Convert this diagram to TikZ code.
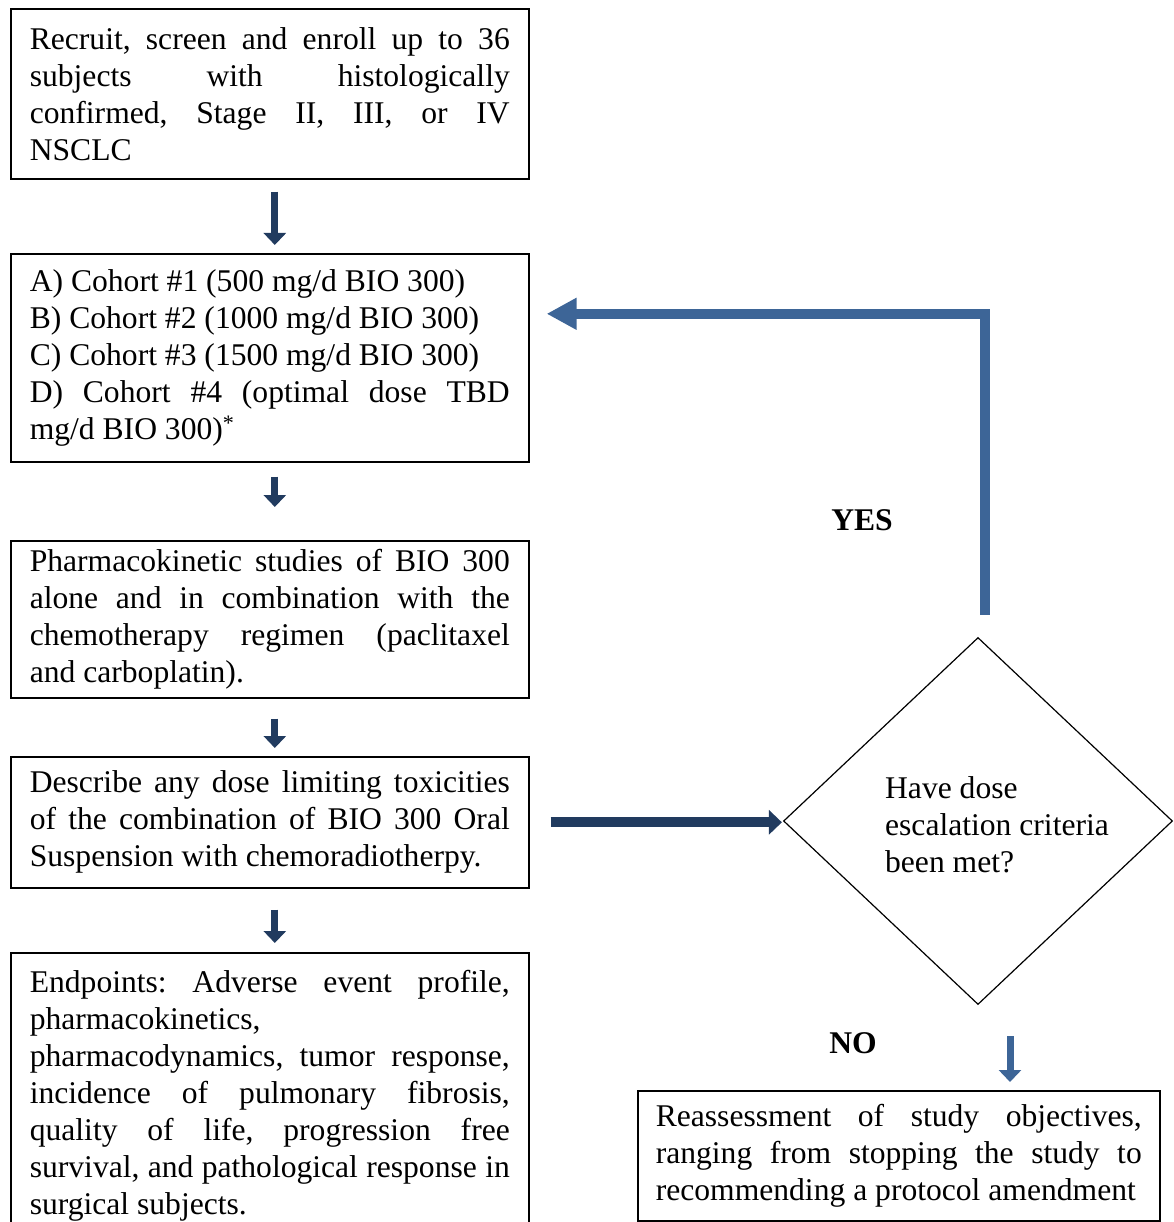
\documentclass[tikz,border=0pt]{standalone}
\usepackage{fontspec}
\setmainfont{Liberation Serif}
\usepackage{xcolor}
\usetikzlibrary{arrows.meta}
\usetikzlibrary{shapes.geometric}
\definecolor{navy}{HTML}{213B5F}
\definecolor{steel}{HTML}{3D6597}
\frenchspacing

\begin{document}
\begin{tikzpicture}[x=1pt,y=-1pt,
    txt/.style={font=\fontsize{31.6}{37}\selectfont},
    box/.style={txt,draw,line width=1.6pt,anchor=north west,
      text width=480pt,inner xsep=19pt,align=justify},
    downarr/.style={navy,line width=7pt,-{Triangle[width=22pt,length=12pt]}},
    sidearr/.style={navy,line width=10pt,-{Triangle[width=24pt,length=13pt]}},
    yesarr/.style={steel,line width=10pt,-{Triangle[width=30pt,length=30pt]}},
    noarr/.style={steel,line width=7pt,-{Triangle[width=22pt,length=12pt]}},
    decision/.style={draw,diamond,line width=1.2pt,minimum width=389pt,
      minimum height=367pt,inner sep=0pt}]
  \useasboundingbox (0,0) rectangle (1173,1222);

  \node (rec) [box,minimum height=170pt] at (10,8)
    {Recruit, screen and enroll up to 36\linebreak subjects with histologically\linebreak
     confirmed, Stage II, III, or IV\linebreak NSCLC};
  \node (coh) [box,minimum height=208pt] at (10,253)
    {A) Cohort \#1 (500 mg/d BIO 300)\\ B) Cohort \#2 (1000 mg/d BIO 300)\\
     C) Cohort \#3 (1500 mg/d BIO 300)\\ D) Cohort \#4 (optimal dose TBD\linebreak
     mg/d BIO 300)\textsuperscript{*}};
  \node (pk) [box,minimum height=157pt] at (10,540)
    {Pharmacokinetic studies of BIO 300\linebreak alone and in combination with the\linebreak
     chemotherapy regimen (paclitaxel\linebreak and carboplatin).};
  \node (dlt) [box,minimum height=131pt] at (10,756)
    {Describe any dose limiting toxicities\linebreak of the combination of BIO 300 Oral\linebreak
     Suspension with chemoradiotherpy.};
  \node (endp) [box,minimum height=285pt] at (10,952)
    {Endpoints: Adverse event profile,\linebreak pharmacokinetics,\\
     pharmacodynamics, tumor response,\linebreak incidence of pulmonary fibrosis,\linebreak
     quality of life, progression free\linebreak survival, and pathological response in\linebreak
     surgical subjects.};

  \node (dia) [decision] at (978,821) {};
  \node (qtxt) [txt,align=left] at (997,825) {Have dose\\ escalation criteria\\ been met?};
  \node (yes) [txt] at (862,520) {\textbf{YES}};
  \node (no) [txt] at (853,1043) {\textbf{NO}};
  \node (reas) [box,text width=486pt,inner xsep=18pt,minimum height=130pt] at (637,1090)
    {Reassessment of study objectives,\linebreak ranging from stopping the study to\linebreak
     recommending a protocol amendment};

  \draw[downarr,shorten <=12pt,shorten >=8pt] ([xshift=5pt]rec.south) -- ([xshift=5pt]coh.north);
  \draw[downarr,shorten <=14pt,shorten >=33pt] ([xshift=5pt]coh.south) -- ([xshift=5pt]pk.north);
  \draw[downarr,shorten <=20pt,shorten >=8pt] ([xshift=5pt]pk.south) -- ([xshift=5pt]dlt.north);
  \draw[downarr,shorten <=21pt,shorten >=9pt] ([xshift=5pt]dlt.south) -- ([xshift=5pt]endp.north);
  \draw[sidearr,shorten <=21pt,shorten >=1pt] (dlt.east) -- (dlt.east -| dia.west);
  \draw[yesarr] ([xshift=7pt,yshift=22pt]dia.north) |- ([xshift=17pt,yshift=44pt]coh.east);
  \draw[noarr,shorten <=31pt,shorten >=8pt] ([xshift=32pt]dia.south) -- ([xshift=32pt]dia.south |- reas.north);
\end{tikzpicture}
\end{document}
